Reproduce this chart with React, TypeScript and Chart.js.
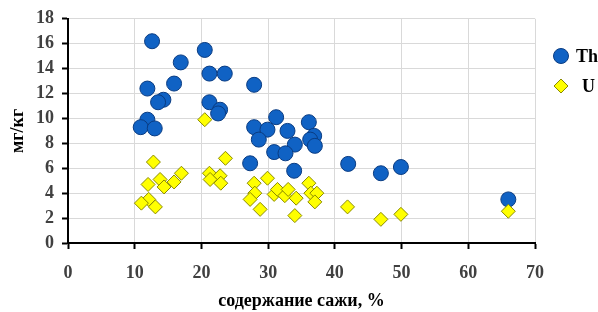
import React, { useEffect, useRef } from "react";
import { Chart, registerables } from "chart.js";

Chart.register(...registerables);

const thX = [12.6, 16.9, 20.5, 21.2, 23.5, 15.9, 11.9, 14.3, 13.5, 21.2, 22.8, 22.5, 11.9, 10.9, 13.0,
  27.9, 31.2, 27.9, 29.9, 28.6, 32.9, 36.1, 36.9, 36.3, 37.0, 34.0, 30.9, 32.6, 27.3, 33.9,
  42.0, 46.9, 49.9, 66.0];
const thY = [16.2, 14.5, 15.5, 13.6, 13.6, 12.8, 12.4, 11.5, 11.3, 11.3, 10.7, 10.4, 9.9, 9.3, 9.2,
  12.7, 10.1, 9.3, 9.1, 8.3, 9.0, 9.7, 8.6, 8.3, 7.8, 7.9, 7.3, 7.2, 6.4, 5.8,
  6.35, 5.6, 6.1, 3.5];

const uX = [12.8, 23.6, 17.0, 15.9, 13.8, 14.4, 12.0, 12.1, 11.0, 13.1, 21.2, 22.8, 21.3, 22.9, 20.5,
  27.9, 29.9, 28.0, 27.3, 28.8, 30.9, 31.4, 32.5, 33.0, 34.2, 34.0, 36.1, 36.4, 37.3, 37.0, 41.9,
  46.9, 49.9, 66.0];
const uY = [6.5, 6.8, 5.6, 4.9, 5.1, 4.5, 4.7, 3.5, 3.2, 2.9, 5.6, 5.4, 5.1, 4.8, 9.9,
  4.8, 5.2, 4.0, 3.5, 2.7, 3.9, 4.3, 3.8, 4.3, 3.6, 2.2, 4.8, 4.0, 4.0, 3.3, 2.9,
  1.9, 2.3, 2.55];

const seriesNames = ["Th", "U"];
const xTitle = "содержание сажи, %";
const yTitle = "мг/кг";

const FONT = "'Liberation Serif', 'Times New Roman', serif";

const legendPlugin = {
  id: "customLegend",
  afterDraw(chart: any) {
    const ctx = chart.ctx;
    const ds = chart.data.datasets;
    const rows = [
      { y: 56, textX: 576 },
      { y: 86, textX: 582 },
    ];
    ds.forEach((d: any, i: number) => {
      const r = rows[i];
      ctx.save();
      ctx.fillStyle = d.backgroundColor;
      ctx.strokeStyle = d.borderColor;
      ctx.lineWidth = 1;
      ctx.beginPath();
      if (d.pointStyle === "circle") {
        ctx.arc(561, r.y, 7.5, 0, Math.PI * 2);
      } else {
        ctx.moveTo(561, r.y - 7);
        ctx.lineTo(568, r.y);
        ctx.lineTo(561, r.y + 7);
        ctx.lineTo(554, r.y);
        ctx.closePath();
      }
      ctx.fill();
      ctx.stroke();
      ctx.fillStyle = "#000";
      ctx.font = "bold 18px " + FONT;
      ctx.textAlign = "left";
      ctx.textBaseline = "middle";
      ctx.fillText(d.label, r.textX, r.y + 1);
      ctx.restore();
    });
  },
};

export default function App() {
  const ref = useRef<HTMLCanvasElement>(null);
  useEffect(() => {
    if (!ref.current) return;
    const chart = new Chart(ref.current, {
      type: "scatter",
      data: {
        datasets: [
          {
            label: seriesNames[0],
            data: thX.map((x, i) => ({ x, y: thY[i] })),
            backgroundColor: "#1062c4",
            borderColor: "#0a3c82",
            borderWidth: 1,
            pointStyle: "circle",
            pointRadius: 7.5,
            order: 1,
          },
          {
            label: seriesNames[1],
            data: uX.map((x, i) => ({ x, y: uY[i] })),
            backgroundColor: "#ffff00",
            borderColor: "#8a8a00",
            borderWidth: 1,
            pointStyle: "rectRot",
            pointRadius: 7,
            order: 0,
          },
        ],
      },
      options: {
        animation: false,
        responsive: false,
        maintainAspectRatio: false,
        layout: { padding: { top: 17, right: 63, left: 0, bottom: 0 } },
        plugins: { legend: { display: false }, tooltip: { enabled: false } },
        scales: {
          x: {
            type: "linear",
            min: 0,
            max: 70,
            ticks: {
              stepSize: 10,
              color: "#404040",
              font: { family: FONT, size: 18, weight: "bold" },
              padding: 14,
            },
            grid: { color: "#d9d9d9", tickColor: "#000", tickLength: 6, tickWidth: 2 },
            border: { color: "#000", width: 2 },
            title: {
              display: true,
              text: xTitle,
              color: "#000",
              font: { family: FONT, size: 18, weight: "bold" },
              padding: { top: 0, bottom: 0 },
            },
            afterFit(scale: any) {
              scale.height = 69;
            },
          },
          y: {
            min: 0,
            max: 18,
            ticks: {
              stepSize: 2,
              color: "#404040",
              font: { family: FONT, size: 18, weight: "bold" },
              padding: 8,
            },
            grid: { color: "#d9d9d9", tickColor: "#000", tickLength: 6, tickWidth: 2 },
            border: { color: "#000", width: 2 },
            title: {
              display: true,
              text: yTitle,
              color: "#000",
              font: { family: FONT, size: 18, weight: "bold" },
              padding: { top: 8, bottom: 0 },
            },
            afterFit(scale: any) {
              scale.width = 68;
            },
          },
        },
      },
      plugins: [legendPlugin],
    } as any);
    return () => chart.destroy();
  }, []);
  return (
    <div style={{ position: "fixed", left: 0, top: 0, width: 598, height: 312, background: "#fff" }}>
      <canvas ref={ref} width={598} height={312} style={{ width: 598, height: 312 }} />
    </div>
  );
}
